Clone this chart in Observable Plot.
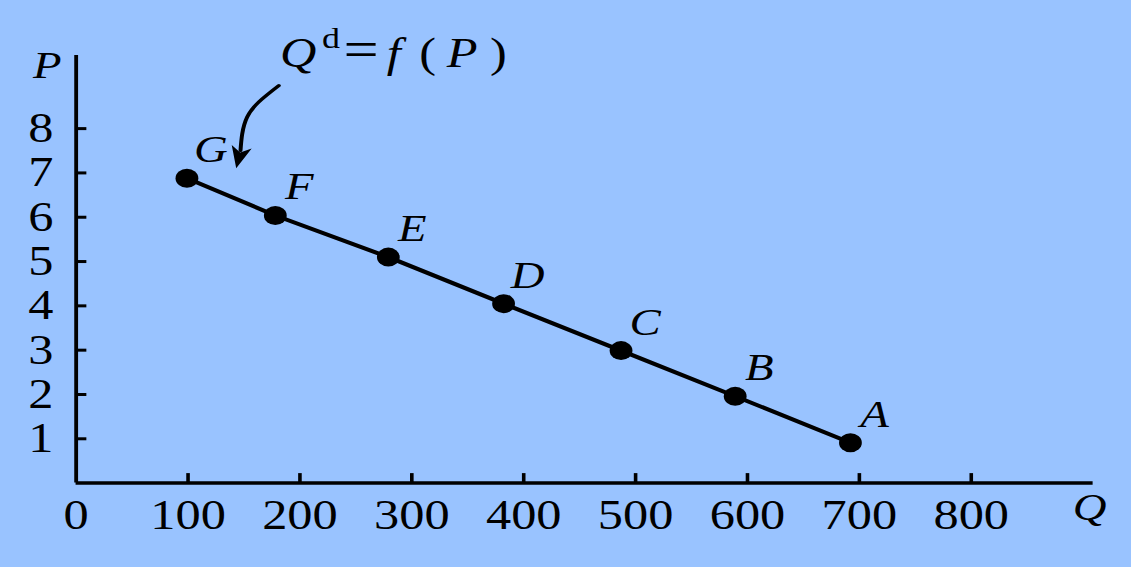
<!DOCTYPE html>
<html>
<head>
<meta charset="utf-8">
<script src="https://cdn.jsdelivr.net/npm/d3@7"></script>
<script src="https://cdn.jsdelivr.net/npm/@observablehq/plot@0.6"></script>
<style>
  html, body { margin: 0; padding: 0; background: #99c3ff; }
  #chart { width: 1131px; height: 567px; overflow: hidden; }
</style>
</head>
<body>
<div id="chart"></div>
<script>
// ---- data ----
const pointLabels = ["G", "F", "E", "D", "C", "B", "A"];
const quantity = [99, 178, 279, 382, 487, 589, 692];
const price = [6.88, 6.04, 5.10, 4.05, 2.99, 1.96, 0.91];
const xTicks = [0, 100, 200, 300, 400, 500, 600, 700, 800];
const yTicks = [1, 2, 3, 4, 5, 6, 7, 8];
const xAxisName = "Q";
const yAxisName = "P";
const formula = "Qd=f(P)";
// curved annotation arrow (data space)
const arrowQ = [181.1, 163.2, 152.8, 148.4, 146.9];
const arrowP = [8.97, 8.60, 8.26, 7.88, 7.51];
const arrowHeadQ = [145.5];
const arrowHeadP = [7.35];

// ---- build tables ----
const points = pointLabels.map((label, i) => ({label, q: quantity[i], p: price[i]}));
const shaft = arrowQ.map((q, i) => ({q, p: arrowP[i]}));
const head = arrowHeadQ.map((q, i) => ({q, p: arrowHeadP[i]}));

// the reference is horizontally stretched ~1.2x: draw narrower and stretch the SVG
const OUT_W = 1131, H = 567, STRETCH = 1.2;
const W = Math.round(OUT_W / STRETCH);
const font = "'Liberation Serif', 'Times New Roman', serif";

const tickUp = {draw(ctx) { ctx.moveTo(0, 0); ctx.lineTo(0, -10); }};
const tickRight = {draw(ctx) { ctx.moveTo(0, 0); ctx.lineTo(8.5, 0); }};
const arrowHeadSym = {draw(ctx) {
  ctx.moveTo(0, 11); ctx.lineTo(-8.5, -11); ctx.lineTo(0, -5); ctx.lineTo(8.5, -11); ctx.closePath();
}};

const chart = Plot.plot({
  width: W,
  height: H,
  marginLeft: 63,
  marginRight: 32,
  marginTop: 55,
  marginBottom: 84.4,
  style: {background: "#99c3ff", fontFamily: font, color: "black", overflow: "visible"},
  x: {domain: [0, 909], axis: null},
  y: {domain: [0, 9.65], axis: null},
  marks: [
    Plot.axisX({ticks: xTicks, tickSize: 0, tickPadding: 16, fontSize: 42, fontFamily: font, label: null, tickFormat: d => String(d)}),
    Plot.axisY({ticks: yTicks, tickSize: 0, tickPadding: 19, fontSize: 42, fontFamily: font, label: null, tickFormat: d => String(d)}),
    Plot.dot(xTicks.filter(d => d > 0), {x: d => d, y: () => 0, symbol: tickUp, fill: "none", stroke: "black", strokeWidth: 3}),
    Plot.dot(yTicks, {x: () => 0, y: d => d, symbol: tickRight, fill: "none", stroke: "black", strokeWidth: 3}),
    Plot.ruleX([0], {stroke: "black", strokeWidth: 3.2}),
    Plot.ruleY([0], {stroke: "black", strokeWidth: 3.5}),
    Plot.line(points, {x: "q", y: "p", stroke: "black", strokeWidth: 4}),
    Plot.dot(points, {x: "q", y: "p", r: 9.5, fill: "black", stroke: "none"}),
    Plot.text(points, {x: "q", y: "p", text: "label", dx: 20, dy: -16, lineAnchor: "bottom", textAnchor: "middle",
      fontStyle: "italic", fontSize: 39, fontFamily: font, fill: "black"}),
    Plot.line(shaft, {x: "q", y: "p", curve: "natural", stroke: "black", strokeWidth: 3.3}),
    Plot.dot(head, {x: "q", y: "p", symbol: arrowHeadSym, rotate: 12, fill: "black", stroke: "none"}),
    Plot.text([yAxisName], {frameAnchor: "top-left", text: d => d, dx: -24, dy: 22, lineAnchor: "bottom", textAnchor: "middle",
      fontStyle: "italic", fontSize: 39, fontFamily: font, fill: "black"}),
    Plot.text([xAxisName], {frameAnchor: "bottom-right", text: d => d, dx: -3, dy: 37, lineAnchor: "bottom", textAnchor: "middle",
      fontStyle: "italic", fontSize: 39, fontFamily: font, fill: "black"}),
    Plot.text([formula], {frameAnchor: "top-left", text: d => d, dx: 170, dy: 11, lineAnchor: "bottom", textAnchor: "start",
      fontSize: 42, fontFamily: font, fill: "black"})
  ]
});

// rich-text formula: Q^d = f( P ), each glyph placed as in the reference
const formulaParts = [
  {t: "Q", x: 0, y: 0, italic: true},
  {t: "d", x: 35, y: -19, size: 30},
  {t: "=", x: 53, y: 0, size: 52},
  {t: "f", x: 89, y: 0, italic: true},
  {t: "(", x: 116, y: 0},
  {t: "P", x: 139, y: 0, italic: true},
  {t: ")", x: 175, y: 0}
];
d3.select(chart).selectAll("text").filter(function() { return this.textContent === formula; }).each(function() {
  const t = d3.select(this);
  t.text("");
  for (const part of formulaParts) {
    const s = t.append("tspan").attr("x", part.x).attr("y", part.y).text(part.t);
    if (part.italic) s.attr("font-style", "italic");
    if (part.size) s.attr("font-size", part.size);
  }
});

chart.setAttribute("width", OUT_W);
chart.setAttribute("height", H);
chart.setAttribute("viewBox", `0 0 ${W} ${H}`);
chart.setAttribute("preserveAspectRatio", "none");
chart.style.maxWidth = "none";
chart.style.width = OUT_W + "px";
chart.style.height = H + "px";
document.getElementById("chart").appendChild(chart);
</script>
</body>
</html>
